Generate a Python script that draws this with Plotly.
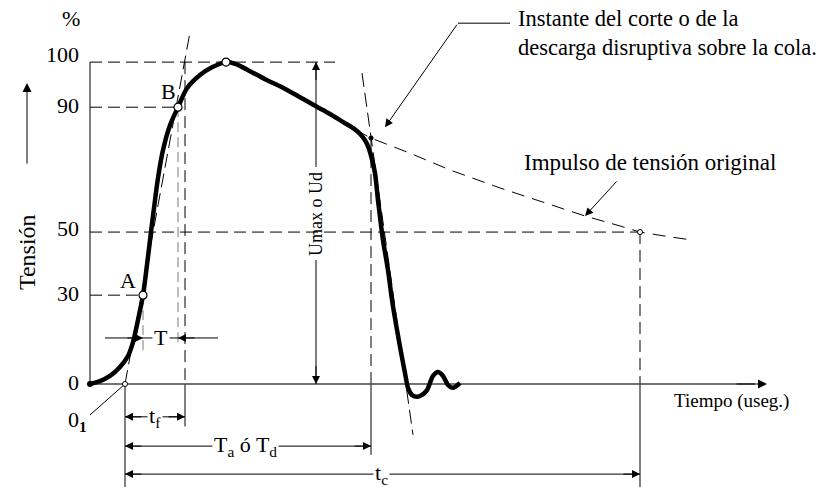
import plotly.graph_objects as go

# ---------------- data (time: diagram µs units, tension: % of drawing height) ----------------
t_wave = [0, 1.0, 2.0, 3.0, 3.8, 4.3, 4.8, 5.3, 5.7, 6.1, 6.5, 6.8, 7.3, 8.0, 8.8, 9.7, 11.0, 12.2, 13.6,
          14.6, 16.0, 17.5, 19.0, 21.0, 22.6, 24.0, 25.2, 26.0, 26.7, 27.2, 27.6, 27.9, 28.2, 28.5, 28.8,
          29.3, 29.8, 30.2, 30.7, 31.1, 31.5, 31.8, 32.2, 32.7, 33.2, 33.7, 34.3, 34.8, 35.3, 35.8, 36.3, 37.0]
v_wave = [0, 0.9, 2.5, 5.3, 8.7, 13.0, 19.9, 27.6, 37.0, 47.2, 57.1, 64.0, 72.7, 80.4, 86.0, 91.9, 96.0, 98.4, 100,
          99.4, 97.2, 94.7, 92.5, 89.1, 86.3, 83.9, 81.6, 80.1, 78.6, 77.0, 75.2, 73.0, 69.8, 65.5, 57.1,
          44.7, 35.4, 26.1, 16.8, 9.9, 3.4, -1.2, -3.4, -4.0, -3.4, -1.9, 2.5, 3.7, 2.5, -0.3, -1.2, 0.3]

t_orig = [26.6, 28.1, 32.0, 36.0, 41.0, 46.0, 49.5, 53.0, 55.0, 58.0, 60.3]
v_orig = [78.9, 76.4, 71.7, 66.5, 60.9, 55.9, 52.2, 49.1, 47.2, 45.7, 44.7]

level_text = ["0", "30", "50", "90", "100"]
level_pos = [0, 27.6, 47.2, 86.0, 100]
level_end = [0, 5.3, 55.0, 8.8, 24.5]

t_A, v_A = 5.3, 27.6
t_B, v_B = 8.8, 86.0
t_peak, v_peak = 13.6, 100
t_O1 = 3.5
t_front = 9.5
t_cut, v_cut = 28.1, 76.4
t_c, v_c = 55.0, 47.2
t_umax = 22.6

front_tan_t = [3.5, 10.0]
front_tan_v = [0, 109.3]
back_tan_t = [27.2, 32.3]
back_tan_v = [96.6, -15.8]

# dimension line heights
v_T, v_tf, v_Ta, v_tc = 14.3, -10.2, -19.3, -28.0

# ---------------- styling ----------------
FONT = "Liberation Serif, Times New Roman, serif"
BLACK = "#000000"
GREY = "#7a7a7a"
DASH = "12px,6px"

fig = go.Figure()


def seg(x, y, dash=None, color=BLACK, width=1):
    fig.add_trace(go.Scatter(x=x, y=y, mode="lines", hoverinfo="skip",
                             line=dict(color=color, width=width, dash=dash)))


# left vertical reference line
seg([0, 0], [0, level_pos[-1]])
# level dashed lines
for pos, end in zip(level_pos[1:], level_end[1:]):
    seg([0, end], [pos, pos], dash=DASH)
# tangents
seg(front_tan_t, front_tan_v, dash="14px,6px")
seg(back_tan_t, back_tan_v, dash="14px,6px")
# vertical at end of front time
seg([t_front, t_front], [100, 0], dash=DASH)
seg([t_front, t_front], [0, -13.2])
# grey construction verticals at A and B
seg([t_A, t_A], [v_A, 10.5], dash="10px,5px", color=GREY)
seg([t_B, t_B], [v_B, 11.5], dash="10px,5px", color=GREY)
# O1 vertical
seg([t_O1, t_O1], [0, -32])
# chopping instant vertical
seg([t_cut, t_cut], [v_cut, 0], dash=DASH)
seg([t_cut, t_cut], [0, -22])
# tc vertical
seg([t_c, t_c], [v_c, 0], dash=DASH)
seg([t_c, t_c], [0, -32])
# original impulse tail
seg(t_orig, v_orig, dash="13px,8px")
# time axis
seg([0, 66.5], [0, 0], color="#444444", width=1.3)
# Umax vertical (gap for text)
seg([t_umax, t_umax], [0, 38.5])
seg([t_umax, t_umax], [67.4, 100])
# dimension lines
seg([1.5, 12.8], [v_T, v_T])
seg([t_O1, t_front], [v_tf, v_tf])
seg([t_O1, t_cut], [v_Ta, v_Ta])
seg([t_O1, t_c], [v_tc, v_tc])
# leaders
seg([36.8, 42.0], [112.1, 112.1])
seg([t_O1, 0], [0, -9.6])

# main chopped wave
fig.add_trace(go.Scatter(x=t_wave, y=v_wave, mode="lines", hoverinfo="skip",
                         line=dict(color=BLACK, width=4.5, shape="spline", smoothing=0.8)))
fig.add_trace(go.Scatter(x=[t_wave[0]], y=[v_wave[0]], mode="markers", hoverinfo="skip",
                         marker=dict(color=BLACK, size=6)))
# points A, B, peak
fig.add_trace(go.Scatter(x=[t_A, t_B, t_peak], y=[v_A, v_B, v_peak], mode="markers", hoverinfo="skip",
                         marker=dict(color="white", size=8, line=dict(color=BLACK, width=1.2))))
fig.add_trace(go.Scatter(x=[t_O1, t_c], y=[0, v_c], mode="markers", hoverinfo="skip",
                         marker=dict(color="white", size=5, line=dict(color=BLACK, width=1))))
fig.add_trace(go.Scatter(x=[t_cut], y=[v_cut], mode="markers", hoverinfo="skip",
                         marker=dict(color=BLACK, size=5)))

ann = []


def arrow(xt, yt, xs, ys, size=1.6, head=2):
    ann.append(dict(x=xt, y=yt, ax=xs, ay=ys, xref="x", yref="y", axref="x", ayref="y",
                    text="", showarrow=True, arrowhead=head, arrowsize=size, arrowwidth=1,
                    arrowcolor=BLACK, standoff=0))


def label(x, y, text, size=22, xanchor="center", angle=0, bg=None, yshift=0, align="center"):
    d = dict(x=x, y=y, xref="x", yref="y", text=text, showarrow=False, xanchor=xanchor,
             yanchor="middle", textangle=angle, yshift=yshift, align=align,
             font=dict(family=FONT, size=size, color=BLACK))
    if bg:
        d.update(bgcolor=bg, borderpad=1)
    ann.append(d)


# arrows
arrow(67.7, 0, 64.5, 0, size=1.8)           # time axis
arrow(-6.3, 93.5, -6.3, 68.0, size=1.8)     # tension arrow
arrow(t_umax, 100, t_umax, 94)
arrow(t_umax, 0, t_umax, 6)
arrow(t_A, v_T, 3.6, v_T)
arrow(t_B, v_T, 10.6, v_T)
for x_end, v_dim in ((t_front, v_tf), (t_cut, v_Ta), (t_c, v_tc)):
    arrow(t_O1, v_dim, t_O1 + 1.8, v_dim)
    arrow(x_end, v_dim, x_end - 1.8, v_dim)
arrow(29.5, 79.8, 36.8, 112.1)
arrow(49.5, 52.2, 52.8, 63.4)

# tick labels
shifts = [2, 2, 4, 2, 8]
for txt, pos, sh in zip(level_text, level_pos, shifts):
    label(-0.9, pos, txt, xanchor="right", yshift=sh)
label(-1.9, 113.7, "%")
label(3.8, 32.3, "A")
label(7.8, 91.0, "B")
label(7.1, v_T, "T", bg="white")
label(6.5, v_tf, "t<sub>f</sub>", bg="white")
label(15.5, v_Ta, "T<sub>a</sub> ó T<sub>d</sub>", bg="white")
label(29.1, v_tc, "t<sub>c</sub>", bg="white")
label(-1.3, -11.5, "0<sub><b>1</b></sub>")
label(t_umax, 52.8, "Umax o Ud", size=18, angle=-90)
label(-6.3, 41.0, "Tensión", size=24, angle=-90)
label(42.6, 109.2, "Instante del corte o de la<br>descarga disruptiva sobre la cola.",
      size=22.5, xanchor="left", align="left")
label(43.2, 68.9, "Impulso de tensión original", size=23, xanchor="left")
label(58.2, -5.3, "Tiempo (useg.)", size=19, xanchor="left")

fig.update_layout(
    width=833, height=487, margin=dict(l=0, r=0, t=0, b=0),
    paper_bgcolor="white", plot_bgcolor="white", showlegend=False,
    xaxis=dict(range=[-9.0, 74.3], visible=False, fixedrange=True),
    yaxis=dict(range=[-32.0, 119.3], visible=False, fixedrange=True),
    annotations=ann,
)

fig.write_html("out.html", config={"displayModeBar": False},
               post_script="document.body.style.margin='0px';")
